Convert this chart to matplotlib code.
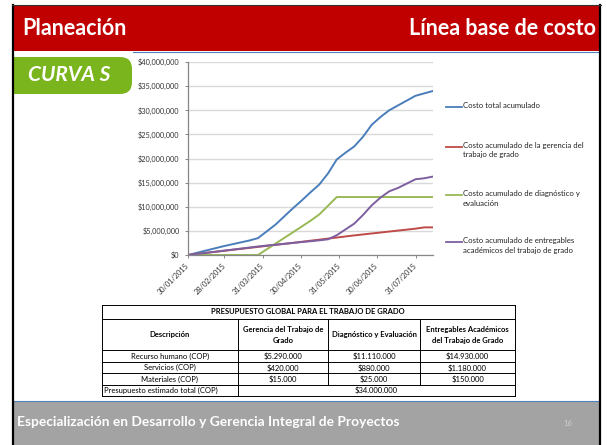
import numpy as np
import matplotlib
matplotlib.use('Agg')
import matplotlib.pyplot as plt
import matplotlib.dates as mdates
from matplotlib.patches import Rectangle, FancyBboxPatch
from matplotlib.ticker import FuncFormatter

plt.rcParams['font.family'] = ['Lato', 'DejaVu Sans']

# Fechas de corte semanales (30/01/2015 a 14/08/2015)
fechas = np.arange(np.datetime64('2015-01-30'), np.datetime64('2015-08-15'), np.timedelta64(7, 'D'))

# Costos acumulados en millones de pesos
costo_total = [0, 0.45, 0.9, 1.35, 1.8, 2.2, 2.6, 3.0, 3.5, 4.9, 6.3, 8.0, 9.7, 11.3, 13.0,
               14.6, 16.9, 19.8, 21.2, 22.5, 24.5, 27.0, 28.6, 30.0, 31.0, 32.0, 33.0, 33.5, 34.0]
costo_gerencia = [0, 0.21, 0.42, 0.63, 0.84, 1.05, 1.26, 1.47, 1.68, 1.89, 2.10, 2.31, 2.52, 2.74, 2.96,
                  3.18, 3.40, 3.62, 3.84, 4.06, 4.26, 4.46, 4.66, 4.86, 5.06, 5.26, 5.46, 5.725, 5.725]
costo_diagnostico = [0, 0, 0, 0, 0, 0, 0, 0, 0, 1.18, 2.36, 3.54, 4.72, 5.90, 7.10,
                     8.40, 10.20, 12.015, 12.015, 12.015, 12.015, 12.015, 12.015, 12.015, 12.015, 12.015, 12.015, 12.015, 12.015]
costo_entregables = [0, 0.22, 0.44, 0.66, 0.88, 1.10, 1.32, 1.54, 1.76, 1.96, 2.14, 2.32, 2.50, 2.68, 2.86,
                     3.04, 3.25, 4.10, 5.30, 6.50, 8.30, 10.30, 11.90, 13.20, 13.90, 14.80, 15.70, 15.90, 16.26]

series = [costo_total, costo_gerencia, costo_diagnostico, costo_entregables]
nombres = ['Costo total acumulado',
           'Costo acumulado de la gerencia del\ntrabajo de grado',
           'Costo acumulado de diagnóstico y\nevaluación',
           'Costo acumulado de entregables\nacadémicos del trabajo de grado']
colores = ['#4A7EBB', '#BE4B48', '#98B954', '#7D5FA0']

fechas_eje = ['2015-01-30', '2015-02-28', '2015-03-31', '2015-04-30', '2015-05-31', '2015-06-30', '2015-07-31']

# Tabla de presupuesto
titulo_tabla = 'PRESUPUESTO GLOBAL PARA EL TRABAJO DE GRADO'
encabezados = ['Descripción', 'Gerencia del Trabajo de\nGrado', 'Diagnóstico y Evaluación',
               'Entregables Académicos\ndel Trabajo de Grado']
rubros = ['Recurso humano (COP)', 'Servicios (COP)', 'Materiales (COP)']
valores = [['$5.290.000', '$11.110.000', '$14.930.000'],
           ['$420.000', '$880.000', '$1.180.000'],
           ['$15.000', '$25.000', '$150.000']]
total_rubro = 'Presupuesto estimado total (COP)'
total_valor = '$34.000.000'

fig = plt.figure(figsize=(6.07, 4.45), dpi=100)

# fondo de la diapositiva, en pixeles
bg = fig.add_axes([0, 0, 1, 1])
bg.set_xlim(0, 607)
bg.set_ylim(445, 0)
bg.axis('off')

bg.add_patch(Rectangle((14, 6), 585, 44.5, fc='#C00000', ec='none'))
bg.plot([133, 599], [51.5, 51.5], color='#4F81BD', lw=0.8)
bg.text(22, 35, 'Planeación', color='white', fontsize=15.5, fontweight='bold', va='baseline')
bg.text(596, 35, 'Línea base de costo', color='white', fontsize=15.5, fontweight='bold',
        va='baseline', ha='right')

bg.add_patch(FancyBboxPatch((-20, 57), 152, 37, boxstyle='round,pad=0,rounding_size=12',
                            fc='#7AB51D', ec='none'))
bg.add_patch(Rectangle((0, 50), 12, 60, fc='white', ec='none'))
bg.text(69, 81, 'CURVA S', color='white', fontsize=15, fontweight='bold', style='italic',
        ha='center', va='baseline')

bg.add_patch(Rectangle((14, 401), 585, 44, fc='#A3A3A3', ec='none'))
bg.plot([14, 599], [401, 401], color='#4F81BD', lw=0.8)
bg.text(17, 426.5, 'Especialización en Desarrollo y Gerencia Integral de Proyectos', color='white',
        fontsize=9.9, fontweight='bold', va='baseline')
bg.text(563, 426, '16', color='#D0D0D0', fontsize=5.5, va='baseline')

# marco
bg.plot([12.5, 12.5], [5, 445], color='black', lw=1.6)
bg.plot([600, 600], [5, 445], color='black', lw=1.6)
bg.plot([12, 601], [5, 5], color='#333333', lw=0.8)

# leyenda a la derecha del grafico
ley_y = [107, 147, 195, 242]
for nombre, color, y in zip(nombres, colores, ley_y):
    bg.plot([446, 462], [y, y], color=color, lw=1.3)
    bg.text(463, y - 4.6, nombre, fontsize=5.6, color='#222222', va='top', linespacing=1.35)

# tabla
cols = [101.5, 238, 328, 420, 515]
filas_y = [305, 319, 350, 361.5, 373, 384.5, 396]
lw_t = 0.7
for y in filas_y:
    bg.plot([cols[0], cols[-1]], [y, y], color='black', lw=lw_t)
for x in [cols[0], cols[-1]]:
    bg.plot([x, x], [filas_y[0], filas_y[-1]], color='black', lw=lw_t)
for x in cols[1:-1]:
    bg.plot([x, x], [filas_y[1], filas_y[-2]], color='black', lw=lw_t)
bg.plot([cols[1], cols[1]], [filas_y[-2], filas_y[-1]], color='black', lw=lw_t)

bg.text((cols[0] + cols[-1]) / 2, (filas_y[0] + filas_y[1]) / 2, titulo_tabla, fontsize=5.5,
        fontweight='bold', ha='center', va='center')
for j, enc in enumerate(encabezados):
    bg.text((cols[j] + cols[j + 1]) / 2, (filas_y[1] + filas_y[2]) / 2 + 0.5, enc, fontsize=5.5,
            fontweight='bold', ha='center', va='center', linespacing=1.6)
for i, rubro in enumerate(rubros):
    yc = (filas_y[2 + i] + filas_y[3 + i]) / 2 + 0.5
    bg.text((cols[0] + cols[1]) / 2, yc, rubro, fontsize=5.5, ha='center', va='center')
    for j, v in enumerate(valores[i]):
        bg.text((cols[j + 1] + cols[j + 2]) / 2, yc, v, fontsize=5.5, ha='center', va='center')
yc = (filas_y[-2] + filas_y[-1]) / 2 + 0.5
bg.text(cols[0] + 2, yc, total_rubro, fontsize=5.5, ha='left', va='center')
bg.text((cols[1] + cols[-1]) / 2, yc, total_valor, fontsize=5.5, ha='center', va='center')

# grafico curva S
ax = fig.add_axes([188 / 607, 1 - 255 / 445, 245 / 607, 193 / 445])
for s, color in zip(series, colores):
    ax.plot(fechas, np.array(s) * 1e6, color=color, lw=1.4, solid_capstyle='round')

ax.set_xlim(fechas[0], fechas[-1])
ax.set_ylim(0, 40e6)
ax.set_yticks(np.arange(0, 40e6 + 1, 5e6))
ax.yaxis.set_major_formatter(FuncFormatter(lambda v, p: '${:,.0f}'.format(v)))
ax.set_xticks([np.datetime64(d) for d in fechas_eje])
ax.xaxis.set_major_formatter(mdates.DateFormatter('%d/%m/%Y'))
ax.grid(axis='y', color='#D9D9D9', lw=1.0)
ax.set_axisbelow(True)
for lado in ['top', 'right']:
    ax.spines[lado].set_visible(False)
for lado in ['left', 'bottom']:
    ax.spines[lado].set_color('#868686')
    ax.spines[lado].set_linewidth(0.9)
ax.tick_params(axis='y', length=2, width=0.7, color='#868686', labelsize=5.3, pad=4,
               labelcolor='#333333')
ax.tick_params(axis='x', length=2.5, width=0.7, color='#868686', labelsize=5.3, pad=4,
               labelcolor='#333333')
plt.setp(ax.get_xticklabels(), rotation=45, ha='right', va='center', rotation_mode='anchor')

fig.savefig('out.png', dpi=100)
